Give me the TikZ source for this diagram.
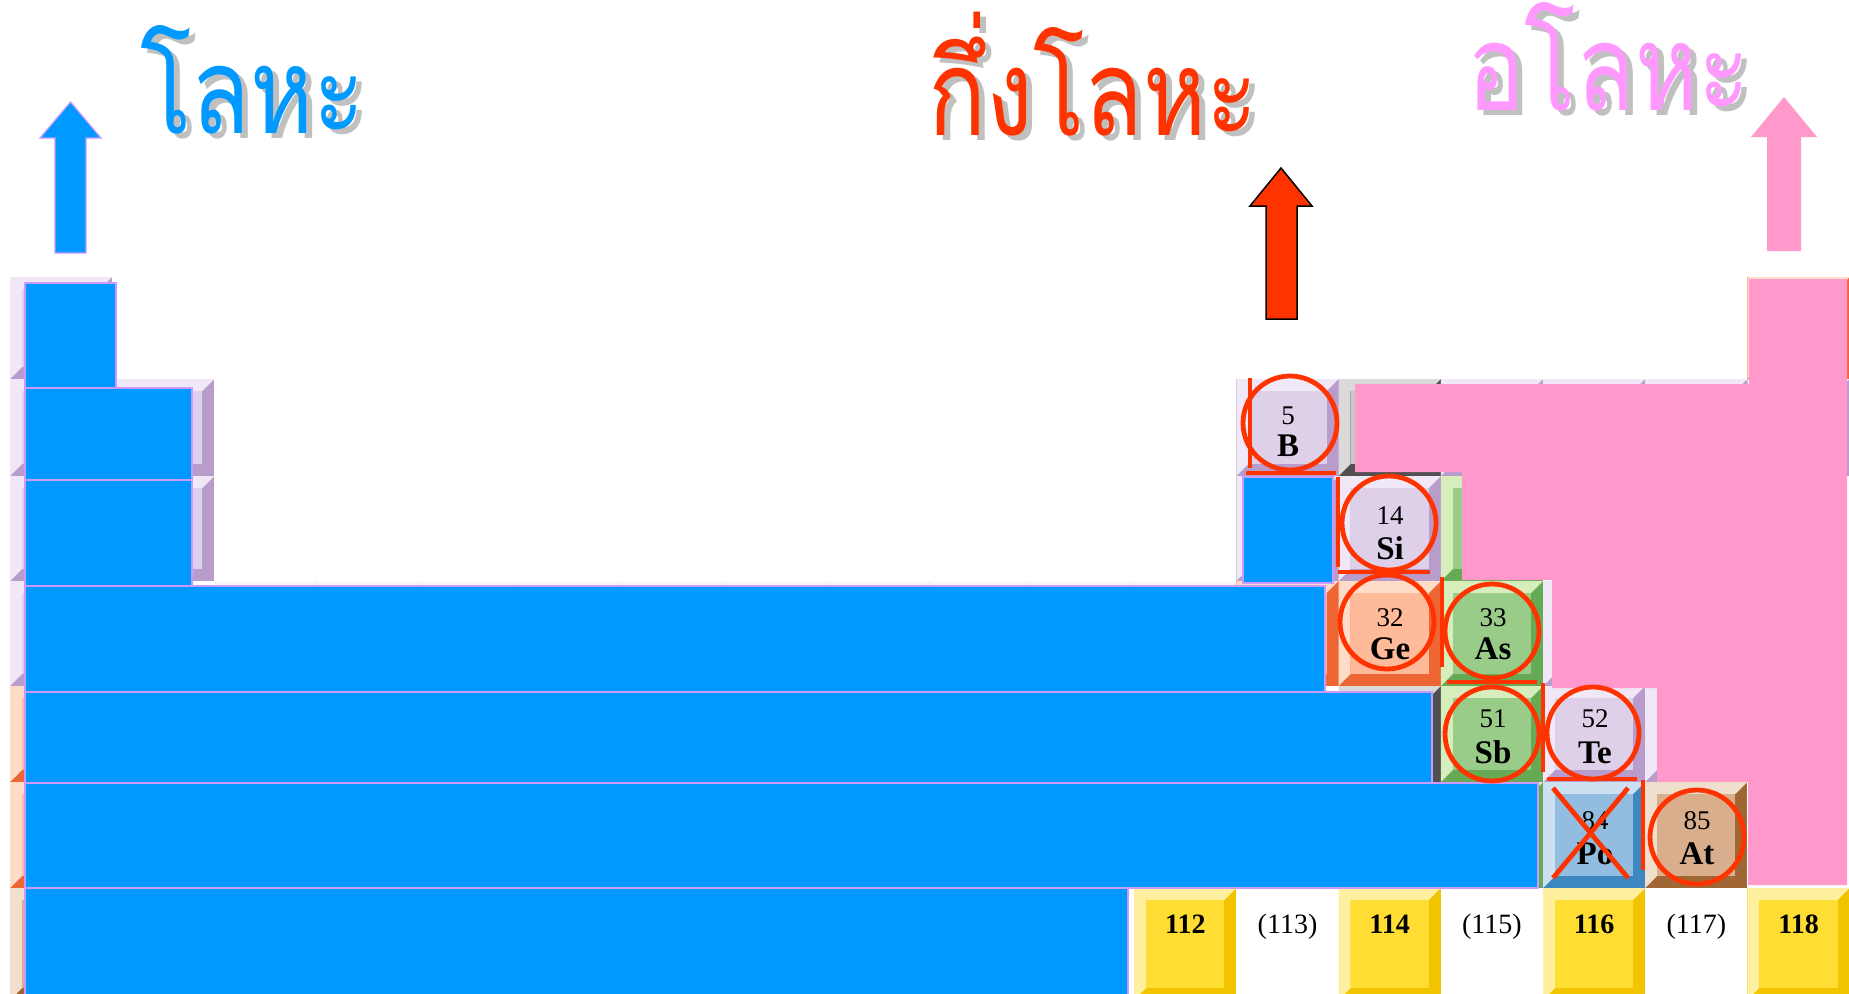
\documentclass[tikz,border=0pt]{standalone}
\usepackage{fontspec}
\usepackage{graphicx}
\setmainfont{Liberation Serif}
\newfontfamily\thaifont[Script=Thai]{Loma}
\definecolor{mblue}{HTML}{0099FF}
\definecolor{mviolet}{HTML}{CC99FF}
\definecolor{mred}{HTML}{FF3300}
\definecolor{mpink}{HTML}{FF99CC}
\definecolor{tpink}{HTML}{FF99FF}
\definecolor{shadowgray}{HTML}{C0C0C0}
% cell colours: light / face / dark
\definecolor{lavL}{HTML}{F0E8F6}\definecolor{lavF}{HTML}{DDD0E8}\definecolor{lavD}{HTML}{B89CCC}
\definecolor{grnL}{HTML}{D6EEBC}\definecolor{grnF}{HTML}{99CC88}\definecolor{grnD}{HTML}{66AA55}
\definecolor{pchL}{HTML}{FFDCC8}\definecolor{pchF}{HTML}{FFBB99}\definecolor{pchD}{HTML}{EE6633}
\definecolor{pblL}{HTML}{CCE0F2}\definecolor{pblF}{HTML}{92BCE0}\definecolor{pblD}{HTML}{3D88C0}
\definecolor{tanL}{HTML}{F0DFCC}\definecolor{tanF}{HTML}{D8AE8C}\definecolor{tanD}{HTML}{A06633}
\definecolor{yelL}{HTML}{FFF0A0}\definecolor{yelF}{HTML}{FFDD33}\definecolor{yelD}{HTML}{F2C400}
\definecolor{gryL}{HTML}{DADADA}\definecolor{gryF}{HTML}{C8C8C8}\definecolor{gryD}{HTML}{505050}
\definecolor{fntL}{HTML}{FBF8FC}\definecolor{fntF}{HTML}{FFFFFF}\definecolor{fntD}{HTML}{F4EEF6}
\newcommand\bevw{12}
% #1 x0, #2 y0 (top), #3 x1, #4 y1 (bottom), #5 colour prefix
\newcommand\bevcell[5]{%
  \fill[#5D] ({#1},{#2}) rectangle ({#3},{#4});
  \fill[#5L] ({#1},{#2}) -- ({#3},{#2}) -- ({(#3)-\bevw},{(#2)+\bevw}) -- ({(#1)+\bevw},{(#2)+\bevw})
     -- ({(#1)+\bevw},{(#4)-\bevw}) -- ({#1},{#4}) -- cycle;
  \fill[#5F] ({(#1)+\bevw},{(#2)+\bevw}) rectangle ({(#3)-\bevw},{(#4)-\bevw});
}
\newcommand\thaititle[1]{\scalebox{0.8}[1]{#1}}
\tikzset{
  blueov/.style={fill=mblue, draw=mviolet, line width=1.5pt},
  redline/.style={draw=mred, line width=4.8pt},
  numtxt/.style={inner sep=0pt, anchor=base, font=\fontsize{27}{30}\selectfont},
  symtxt/.style={inner sep=0pt, anchor=base, font=\bfseries\fontsize{33}{36}\selectfont},
  botnum/.style={inner sep=0pt, anchor=base, font=\bfseries\fontsize{28}{30}\selectfont},
  botpar/.style={inner sep=0pt, anchor=base, font=\fontsize{28}{30}\selectfont},
  titletxt/.style={inner sep=0pt, anchor=base west, font=\thaifont\fontsize{120}{125}\selectfont},
}
\begin{document}
\begin{tikzpicture}[x=1pt,y=-1pt]
\path[use as bounding box] (0,0) rectangle (1849,993);
\clip (0,0) rectangle (1849,993);
\fill[white] (0,0) rectangle (1849,993);

% ---- underlying periodic-table cells ----
\bevcell{10}{277}{112.2}{379}{lav}
\bevcell{10}{379}{112.2}{476}{lav}
\bevcell{10}{476}{112.2}{581}{lav}
\bevcell{10}{581}{112.2}{686}{lav}
\bevcell{10}{686}{112.2}{782}{pch}
\bevcell{10}{782}{112.2}{888}{pch}
\bevcell{10}{888}{112.2}{1000}{tan}
\bevcell{112.2}{379}{214.4}{476}{lav}
\bevcell{112.2}{476}{214.4}{581}{lav}
\foreach \g in {3,...,12} {\bevcell{10+(\g-1)*102.2}{581}{10+\g*102.2}{686}{fnt}}
% group 13
\bevcell{1236.4}{379}{1338.6}{476}{lav}
\bevcell{1236.4}{476}{1338.6}{581}{lav}
\bevcell{1236.4}{581}{1338.6}{686}{pch}
% group 14
\bevcell{1338.6}{379}{1440.8}{476}{gry}
\bevcell{1338.6}{476}{1440.8}{581}{lav}
\bevcell{1338.6}{581}{1440.8}{686}{pch}
\bevcell{1338.6}{686}{1440.8}{782}{gry}
% group 15
\bevcell{1440.8}{379}{1543}{476}{lav}
\bevcell{1440.8}{476}{1543}{581}{grn}
\bevcell{1440.8}{581}{1543}{686}{grn}
\bevcell{1440.8}{686}{1543}{782}{grn}
\bevcell{1440.8}{782}{1543}{888}{grn}
% group 16
\bevcell{1543}{379}{1645.2}{476}{lav}
\bevcell{1543}{581}{1645.2}{686}{lav}
\bevcell{1543}{686}{1645.2}{782}{lav}
\bevcell{1543}{782}{1645.2}{888}{pbl}
% group 17
\bevcell{1645.2}{379}{1747.4}{476}{lav}
\bevcell{1645.2}{686}{1747.4}{782}{lav}
\bevcell{1645.2}{782}{1747.4}{888}{tan}
% group 18
\bevcell{1747.4}{277}{1849.6}{379}{pch}
\bevcell{1747.4}{379}{1849.6}{476}{lav}
% period 7, groups 12-18
\bevcell{1134.2}{888}{1236.4}{1000}{yel}
\bevcell{1338.6}{888}{1440.8}{1000}{yel}
\bevcell{1543}{888}{1645.2}{1000}{yel}
\bevcell{1747.4}{888}{1849.6}{1000}{yel}

% ---- metal overlay (blue) ----
\draw[blueov] (25,283) rectangle (116,388);
\draw[blueov] (25,388) rectangle (192,480);
\draw[blueov] (25,480) rectangle (192,586);
\draw[blueov] (25,586) rectangle (1325,692);
\draw[blueov] (1243,477) rectangle (1333,583);
\draw[blueov] (25,692) rectangle (1432,783);
\draw[blueov] (25,783) rectangle (1538,888);
\draw[blueov] (25,888) rectangle (1128,1000);

% ---- non-metal overlay (pink) ----
\fill[mpink] (1355,384) -- (1749,384) -- (1749,279) -- (1847,279) -- (1847,885)
  -- (1748,885) -- (1748,782) -- (1657,782) -- (1657,688) -- (1552,688)
  -- (1552,580) -- (1462,580) -- (1462,472) -- (1355,472) -- cycle;

% ---- element labels ----
\node[numtxt] (nB)  at (1288,424) {5};   \node[symtxt] (sB)  at (1288,456) {B};
\node[numtxt] (nSi) at (1390,524) {14};  \node[symtxt] (sSi) at (1390,559) {Si};
\node[numtxt] (nGe) at (1390,626) {32};  \node[symtxt] (sGe) at (1390,659) {Ge};
\node[numtxt] (nAs) at (1493,626) {33};  \node[symtxt] (sAs) at (1493,659) {As};
\node[numtxt] (nSb) at (1493,727) {51};  \node[symtxt] (sSb) at (1493,763) {Sb};
\node[numtxt] (nTe) at (1595,727) {52};  \node[symtxt] (sTe) at (1595,763) {Te};
\node[numtxt] (nPo) at (1595,829) {84};  \node[symtxt] (sPo) at (1595,864) {Po};
\node[numtxt] (nAt) at (1697,829) {85};  \node[symtxt] (sAt) at (1697,864) {At};

\node[botnum] (e112) at (1185.3,933) {112};
\node[botpar] (e113) at (1287.5,933) {(113)};
\node[botnum] (e114) at (1389.7,933) {114};
\node[botpar] (e115) at (1491.9,933) {(115)};
\node[botnum] (e116) at (1594.1,933) {116};
\node[botpar] (e117) at (1696.3,933) {(117)};
\node[botnum] (e118) at (1798.5,933) {118};

% ---- red annotations ----
\draw[redline] (1290,423) circle[radius=47];
\draw[redline] (1250,378) -- (1250,468);
\draw[redline] (1246,473) -- (1336,473);
\draw[redline] (1389,523) circle[radius=47];
\draw[redline] (1338,477) -- (1338,567);
\draw[redline] (1338,572) -- (1430,572);
\draw[redline] (1387,622) circle[radius=47];
\draw[redline] (1442,577) -- (1442,667);
\draw[redline] (1492,631) circle[radius=47];
\draw[redline] (1447,682) -- (1537,682);
\draw[redline] (1492,734) circle[radius=47];
\draw[redline] (1543,683) -- (1543,772);
\draw[redline] (1593,733) circle[radius=46];
\draw[redline] (1547,779) -- (1637,779);
\draw[redline] (1553,788) -- (1628,878);
\draw[redline] (1628,788) -- (1553,878);
\draw[redline] (1643,780) -- (1643,870);
\draw[redline] (1697,837) circle[radius=47];

% ---- arrows ----
\filldraw[fill=mblue, draw=mviolet, line width=1.2pt]
  (55,253) -- (55,138) -- (40,138) -- (70.5,102) -- (101,138) -- (86,138) -- (86,253) -- cycle;
\filldraw[fill=mred, draw=black, line width=1.5pt]
  (1266,319) -- (1266,206) -- (1250,206) -- (1281,168) -- (1312,206) -- (1297,206) -- (1297,319) -- cycle;
\fill[mpink]
  (1767,251) -- (1767,137) -- (1751,137) -- (1784,97) -- (1817,137) -- (1801,137) -- (1801,251) -- cycle;

% ---- titles (gray drop shadow, then coloured text) ----
\node[titletxt, text=shadowgray] (t1s) at (146,138) {\thaititle{โลหะ}};
\node[titletxt, text=mblue] (t1) at (140,133) {\thaititle{โลหะ}};
\node[titletxt, text=shadowgray] (t2s) at (934,140) {\thaititle{กึ่งโลหะ}};
\node[titletxt, text=mred] (t2) at (928,135) {\thaititle{กึ่งโลหะ}};
\node[titletxt, text=shadowgray] (t3s) at (1473,115) {\thaititle{อโลหะ}};
\node[titletxt, text=tpink] (t3) at (1467,110) {\thaititle{อโลหะ}};
\end{tikzpicture}
\end{document}
